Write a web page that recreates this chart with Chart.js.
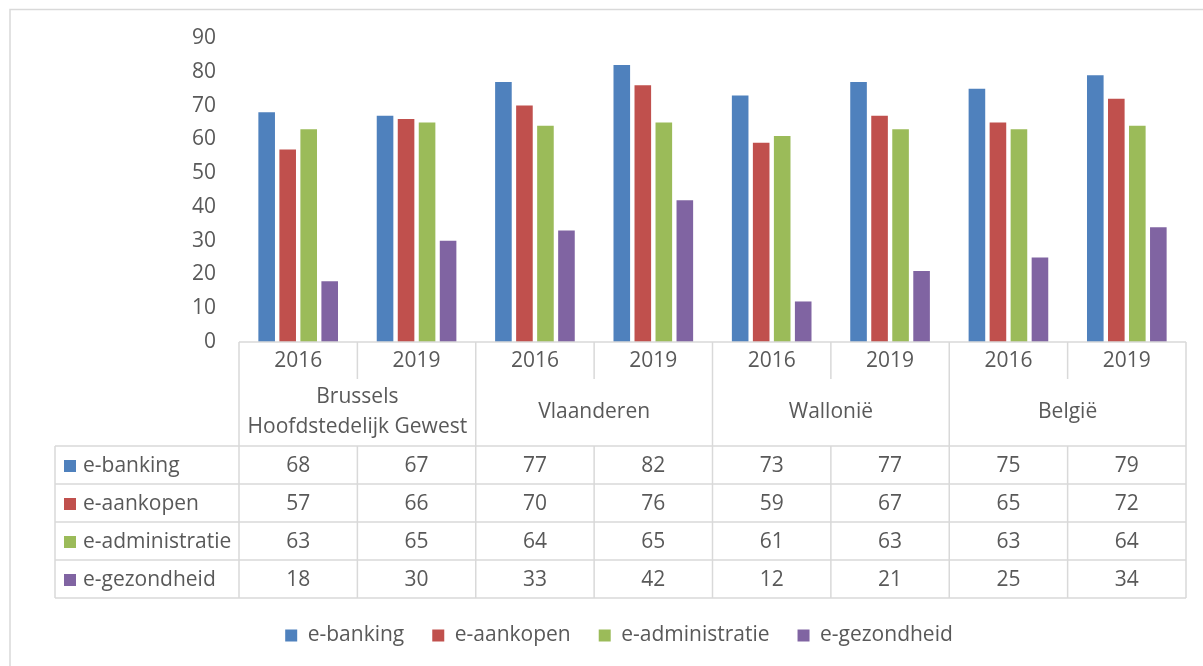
<!DOCTYPE html>
<html>
<head>
<meta charset="utf-8">
<script src="https://cdn.jsdelivr.net/npm/chart.js@4/dist/chart.umd.min.js"></script>
<style>
    html, body { margin: 0; padding: 0; background: #fff; }
    #c { display: block; }
</style>
</head>
<body>
<canvas id="c" width="1203" height="666"></canvas>
<script>
// 資料
const years = ['2016', '2019', '2016', '2019', '2016', '2019', '2016', '2019'];
const regions = [['Brussels', 'Hoofdstedelijk Gewest'], ['Vlaanderen'], ['Wallonië'], ['België']];
const seriesNames = ['e-banking', 'e-aankopen', 'e-administratie', 'e-gezondheid'];
const eBanking = [68, 67, 77, 82, 73, 77, 75, 79];
const eAankopen = [57, 66, 70, 76, 59, 67, 65, 72];
const eAdministratie = [63, 65, 64, 65, 61, 63, 63, 64];
const eGezondheid = [18, 30, 33, 42, 12, 21, 25, 34];
const yTicks = [0, 10, 20, 30, 40, 50, 60, 70, 80, 90];

const colors = ['#4f81bd', '#c0504d', '#9bbb59', '#8064a2'];
const seriesData = [eBanking, eAankopen, eAdministratie, eGezondheid];
const FONT = '"Open Sans", "Noto Sans", sans-serif';
const TEXT = '#595959';
const LINE = '#d9d9d9';

// 資料表（畫在 x 軸區域）
const dataTablePlugin = {
    id: 'dataTable',
    beforeDraw(chart) {
        const ctx = chart.ctx;
        ctx.save();
        ctx.strokeStyle = LINE;
        ctx.lineWidth = 1.5;
        ctx.beginPath();
        ctx.moveTo(10, 666);
        ctx.lineTo(10, 9.5);
        ctx.lineTo(1203, 9.5);
        ctx.stroke();
        ctx.restore();
    },
    afterDraw(chart) {
        const ctx = chart.ctx;
        const x = chart.scales.x;
        const top = chart.chartArea.bottom;
        const n = years.length;
        const cw = (x.right - x.left) / n;
        const edge = i => x.getPixelForValue(i) - cw / 2;
        const yearBottom = top + 37;
        const regionBottom = top + 104;
        const rowH = 38;
        const tableBottom = regionBottom + rowH * seriesNames.length;
        const legendLeft = 55;

        ctx.save();
        ctx.strokeStyle = LINE;
        ctx.lineWidth = 1.5;
        ctx.beginPath();
        // 橫線
        ctx.moveTo(x.left, top); ctx.lineTo(x.right, top);
        for (let r = 0; r <= seriesNames.length; r++) {
            const yy = regionBottom + r * rowH;
            ctx.moveTo(legendLeft, yy); ctx.lineTo(x.right, yy);
        }
        // 直線
        for (let i = 0; i <= n; i++) {
            const xx = i === n ? x.right : edge(i);
            if (i % 2 === 0) {
                ctx.moveTo(xx, top); ctx.lineTo(xx, tableBottom);
            } else {
                ctx.moveTo(xx, top); ctx.lineTo(xx, yearBottom);
                ctx.moveTo(xx, regionBottom); ctx.lineTo(xx, tableBottom);
            }
        }
        ctx.moveTo(legendLeft, regionBottom); ctx.lineTo(legendLeft, tableBottom);
        ctx.stroke();

        ctx.fillStyle = TEXT;
        ctx.font = '21px ' + FONT;
        ctx.textAlign = 'center';
        ctx.textBaseline = 'middle';
        years.forEach((yr, i) => {
            ctx.fillText(yr, x.getPixelForValue(i), top + 19);
        });
        regions.forEach((lines, g) => {
            const cx = (edge(g * 2) + (g * 2 + 2 === n ? x.right : edge(g * 2 + 2))) / 2;
            const mid = (yearBottom + regionBottom) / 2;
            lines.forEach((t, k) => {
                ctx.fillText(t, cx, mid + (k - (lines.length - 1) / 2) * 30);
            });
        });
        seriesNames.forEach((name, r) => {
            const cy = regionBottom + r * rowH + rowH / 2 + 1;
            ctx.fillStyle = colors[r];
            ctx.fillRect(64, cy - 6, 12, 12);
            ctx.fillStyle = TEXT;
            ctx.textAlign = 'left';
            ctx.fillText(name, 83, cy);
            ctx.textAlign = 'center';
            seriesData[r].forEach((v, i) => {
                ctx.fillText(String(v), x.getPixelForValue(i), cy);
            });
        });
        ctx.restore();
    }
};

new Chart(document.getElementById('c'), {
    type: 'bar',
    data: {
        labels: years,
        datasets: seriesNames.map((name, i) => ({
            label: name,
            data: seriesData[i],
            backgroundColor: colors[i],
            borderWidth: 0,
            categoryPercentage: 0.71,
            barPercentage: 0.79
        }))
    },
    options: {
        responsive: false,
        animation: false,
        layout: { padding: { left: 52, right: 17, top: 38, bottom: 10 } },
        plugins: {
            tooltip: { enabled: false },
            legend: {
                position: 'bottom',
                labels: {
                    color: TEXT,
                    font: { family: FONT, size: 21 },
                    boxWidth: 12,
                    boxHeight: 12,
                    padding: 28
                }
            }
        },
        scales: {
            x: {
                grid: { display: false, drawTicks: false },
                border: { display: false },
                ticks: { display: false },
                afterFit(scale) { scale.height = 255; }
            },
            y: {
                min: 0,
                max: 90,
                afterBuildTicks(scale) { scale.ticks = yTicks.map(v => ({ value: v })); },
                grid: { display: false, drawTicks: false },
                border: { display: false },
                ticks: {
                    color: TEXT,
                    font: { family: FONT, size: 21 },
                    padding: 23
                },
                afterFit(scale) { scale.width = 187; }
            }
        }
    },
    plugins: [dataTablePlugin]
});
</script>
</body>
</html>
